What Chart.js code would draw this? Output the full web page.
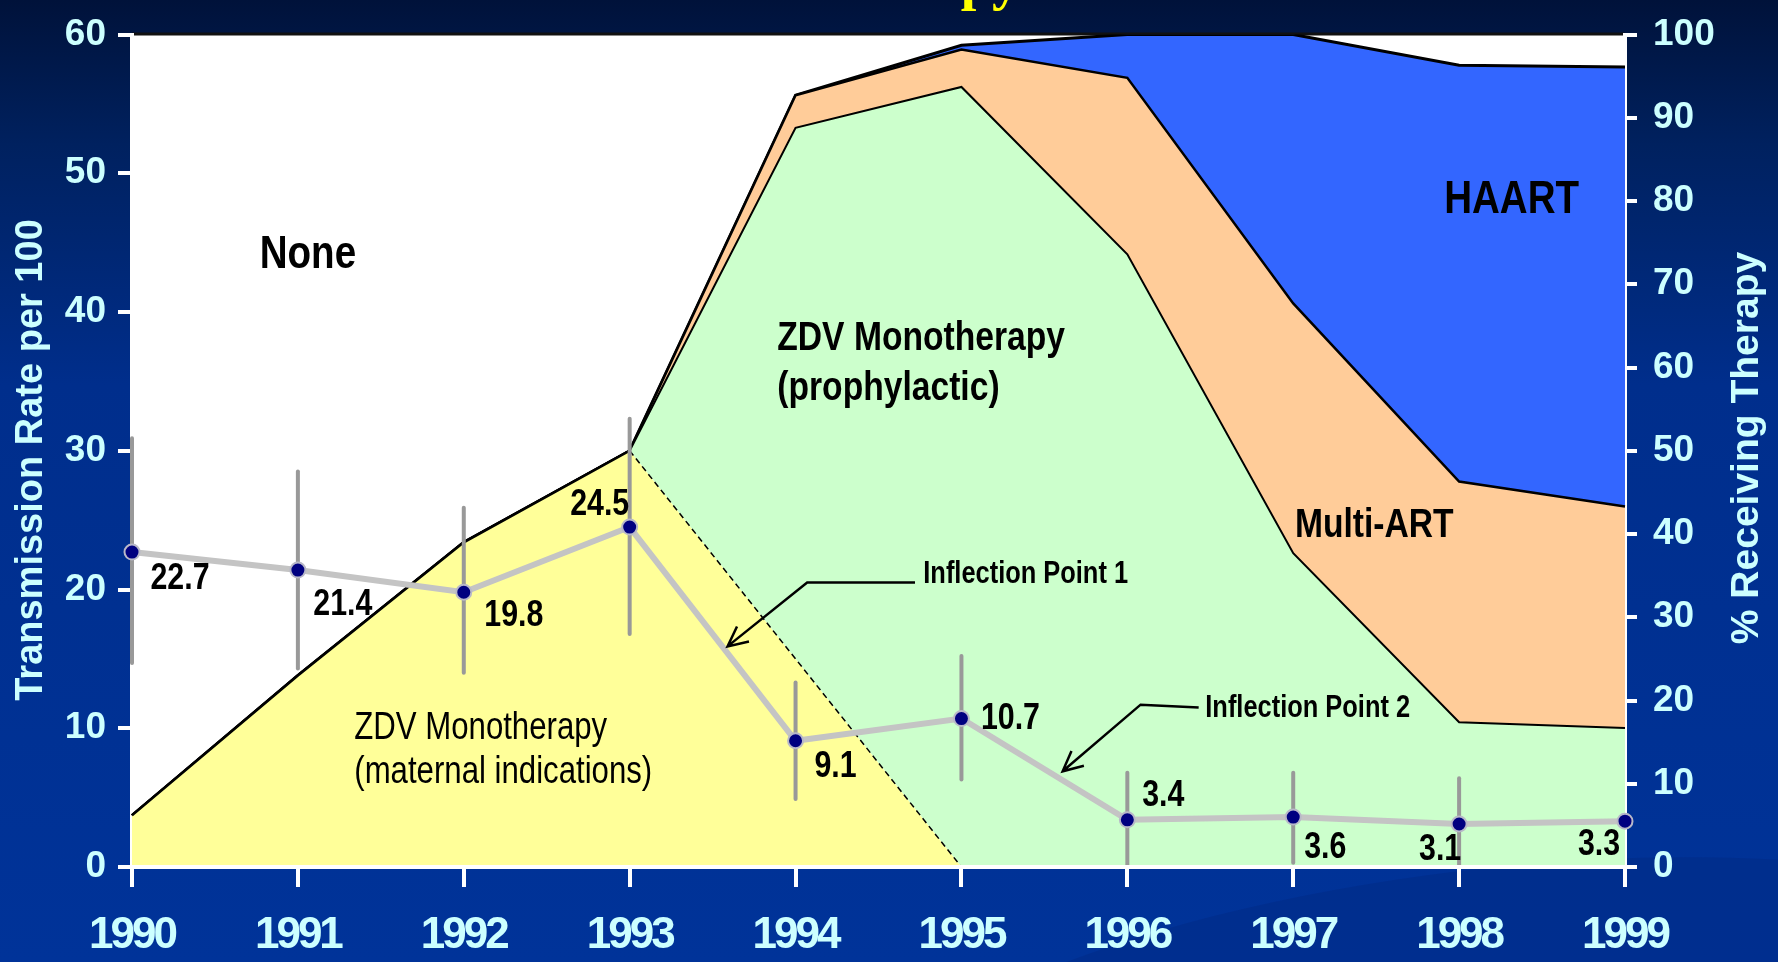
<!doctype html>
<html>
<head>
<title>Perinatal HIV Transmission by Therapy</title>
<script src="https://cdn.jsdelivr.net/npm/chart.js@4.4.1/dist/chart.umd.min.js"></script>
<style>
	html, body { margin: 0; padding: 0; background: #002a80; overflow: hidden; }
	#wrap { width: 1778px; height: 962px; }
</style>
</head>
<body>
<div id="wrap"><canvas id="canvas" width="1778" height="962"></canvas></div>
<script>
	// years on the x axis
	const years = ['1990', '1991', '1992', '1993', '1994', '1995', '1996', '1997', '1998', '1999'];

	// transmission rate per 100 (left axis) with its confidence limits
	const transmissionRate = [22.7, 21.4, 19.8, 24.5, 9.1, 10.7, 3.4, 3.6, 3.1, 3.3];
	const ciLow = [14.7, 14.3, 14.0, 16.8, 4.9, 6.3, 0, 0.3, 0, null];
	const ciHigh = [30.9, 28.5, 25.9, 32.3, 13.3, 15.2, 6.8, 6.8, 6.4, null];

	// % receiving each therapy (right axis), one share per year
	const zdvMaternal = [6.2, 23, 39, 50, 25, 0, 0, 0, 0, 0];
	const zdvProphylactic = [0, 0, 0, 0, 63.8, 93.7, 73.6, 37.7, 17.4, 16.7];
	const multiArt = [0, 0, 0, 0, 3.9, 4.5, 21.2, 30.0, 28.9, 26.6];
	const haart = [0, 0, 0, 0, 0, 0.5, 5.2, 32.3, 50.0, 52.8];

	const leftTicks = [0, 10, 20, 30, 40, 50, 60];
	const rightTicks = [0, 10, 20, 30, 40, 50, 60, 70, 80, 90, 100];

	const FONT = '"Liberation Sans", Arial, sans-serif';
	const CYAN = '#ccffff';
	const SQUEEZE = 0.82; // no narrow face installed, so squeeze the plain one

	// running totals so each band fills onto the one below it
	function cumulative(layers) {
		const out = [];
		let run = years.map(() => 0);
		layers.forEach((layer) => {
			run = run.map((v, i) => +(v + layer[i]).toFixed(2));
			out.push(run);
		});
		return out;
	}
	const [topMaternal, topProphylactic, topMulti, topHaart] =
		cumulative([zdvMaternal, zdvProphylactic, multiArt, haart]);

	// where each rate label sits next to its point (px)
	const labelOffsets = [[48, 27], [45, 35], [50, 24], [-30, -22], [40, 26], [49, 0], [36, -24], [32, 31], [-19, 26], [-26, 24]];

	// text placed in the plot (x in year steps from 1990, y in left axis units)
	const regionNotes = [
		{lines: ['None'], x: 0.77, y: 44.1, weight: 'bold', size: 47, gap: 0},
		{lines: ['ZDV Monotherapy', '(prophylactic)'], x: 3.89, y: 38.1, weight: 'bold', size: 41, gap: 3.6},
		{lines: ['ZDV Monotherapy', '(maternal indications)'], x: 1.34, y: 10.0, weight: 'normal', size: 38, gap: 3.2},
		{lines: ['Multi-ART'], x: 7.01, y: 24.6, weight: 'bold', size: 41, gap: 0},
		{lines: ['HAART'], x: 7.91, y: 48.1, weight: 'bold', size: 47, gap: 0}
	];
	const callouts = [
		{text: 'Inflection Point 1', textAt: [4.77, 21.1], path: [[4.72, 20.5], [4.07, 20.5], [3.59, 15.9]]},
		{text: 'Inflection Point 2', textAt: [6.47, 11.4], path: [[6.43, 11.5], [6.08, 11.7], [5.61, 6.9]]}
	];

	function squeezedText(ctx, text, x, y, align) {
		ctx.save();
		ctx.translate(x, y);
		ctx.scale(SQUEEZE, 1);
		ctx.textAlign = align;
		ctx.fillText(text, 0, 0);
		ctx.restore();
	}

	const backdrop = {
		id: 'backdrop',
		beforeDraw(chart) {
			const {ctx, width, height, chartArea: a} = chart;
			ctx.letterSpacing = '0px';
			ctx.save();
			const g = ctx.createLinearGradient(0, 0, 0, height);
			g.addColorStop(0, '#00123a');
			g.addColorStop(0.15, '#00215f');
			g.addColorStop(0.4, '#002e8c');
			g.addColorStop(1, '#003399');
			ctx.fillStyle = g;
			ctx.fillRect(0, 0, width, height);
			// soft swoosh bottom right
			ctx.fillStyle = 'rgba(0, 30, 110, 0.22)';
			ctx.beginPath();
			ctx.ellipse(1480, 1070, 640, 200, -0.12, 0, Math.PI * 2);
			ctx.fill();
			// white plot area
			ctx.fillStyle = '#ffffff';
			ctx.fillRect(a.left, a.top, a.right - a.left, a.bottom - a.top);
			ctx.strokeStyle = '#111';
			ctx.lineWidth = 3;
			ctx.beginPath();
			ctx.moveTo(a.left, a.top - 0.5);
			ctx.lineTo(a.right, a.top - 0.5);
			ctx.stroke();
			// slide title, mostly above the picture
			ctx.fillStyle = '#ffff00';
			ctx.font = 'bold 56px "Liberation Serif", serif';
			ctx.textAlign = 'right';
			ctx.textBaseline = 'alphabetic';
			ctx.fillText('Therapy', 1020, -1);
			ctx.restore();
		},
		afterDatasetsDraw(chart) {
			// year labels are drawn after this, tighten them a little
			chart.ctx.letterSpacing = '-3px';
		}
	};

	const errorBars = {
		id: 'errorBars',
		beforeDatasetDraw(chart, args) {
			if (args.index !== 0) return;
			const {ctx} = chart;
			const x = chart.scales.x;
			const y = chart.scales.y;
			ctx.save();
			ctx.strokeStyle = '#999999';
			ctx.lineWidth = 4;
			ctx.lineCap = 'round';
			years.forEach((yr, i) => {
				if (ciLow[i] === null) return;
				const px = x.getPixelForValue(i);
				ctx.beginPath();
				ctx.moveTo(px, y.getPixelForValue(ciLow[i]));
				ctx.lineTo(px, y.getPixelForValue(ciHigh[i]));
				ctx.stroke();
			});
			ctx.restore();
		}
	};

	const notes = {
		id: 'notes',
		afterDraw(chart) {
			const {ctx} = chart;
			const x = chart.scales.x;
			const y = chart.scales.y;
			ctx.letterSpacing = '0px';
			ctx.save();
			ctx.fillStyle = '#000';
			ctx.textBaseline = 'middle';

			// rate labels
			ctx.font = 'bold 37px ' + FONT;
			transmissionRate.forEach((v, i) => {
				const [dx, dy] = labelOffsets[i];
				squeezedText(ctx, v.toFixed(1), x.getPixelForValue(i) + dx, y.getPixelForValue(v) + dy, 'center');
			});

			// band names
			regionNotes.forEach((n) => {
				ctx.font = n.weight + ' ' + n.size + 'px ' + FONT;
				n.lines.forEach((line, k) => {
					squeezedText(ctx, line, x.getPixelForValue(n.x), y.getPixelForValue(n.y - k * n.gap), 'left');
				});
			});

			// inflection callouts
			ctx.font = 'bold 31px ' + FONT;
			ctx.strokeStyle = '#000';
			ctx.lineWidth = 2.5;
			callouts.forEach((c) => {
				const pts = c.path.map(([px, py]) => [x.getPixelForValue(px), y.getPixelForValue(py)]);
				ctx.beginPath();
				pts.forEach(([px, py], k) => (k ? ctx.lineTo(px, py) : ctx.moveTo(px, py)));
				const [tx, ty] = pts[pts.length - 1];
				const [sx, sy] = pts[pts.length - 2];
				const ang = Math.atan2(ty - sy, tx - sx);
				const len = 22;
				ctx.moveTo(tx - len * Math.cos(ang - 0.45), ty - len * Math.sin(ang - 0.45));
				ctx.lineTo(tx, ty);
				ctx.lineTo(tx - len * Math.cos(ang + 0.45), ty - len * Math.sin(ang + 0.45));
				ctx.stroke();
				squeezedText(ctx, c.text, x.getPixelForValue(c.textAt[0]), y.getPixelForValue(c.textAt[1]), 'left');
			});

			// axis titles, both reading upwards
			ctx.fillStyle = CYAN;
			ctx.textAlign = 'center';
			ctx.font = 'bold 38px ' + FONT;
			ctx.translate(32, 460);
			ctx.rotate(-Math.PI / 2);
			ctx.fillText('Transmission Rate per 100', 0, 0);
			ctx.setTransform(1, 0, 0, 1, 0, 0);
			ctx.font = 'bold 39px ' + FONT;
			ctx.translate(1747, 448);
			ctx.rotate(-Math.PI / 2);
			ctx.fillText('% Receiving Therapy', 0, 0);
			ctx.restore();
		}
	};

	function areaSet(label, data, fill, color, width) {
		return {
			label: label,
			data: data,
			yAxisID: 'y1',
			fill: fill,
			backgroundColor: color,
			borderColor: width ? '#000' : 'rgba(0,0,0,0)',
			borderWidth: width,
			pointRadius: 0,
			tension: 0,
			order: 1
		};
	}

	const ctx = document.getElementById('canvas').getContext('2d');
	window.myChart = new Chart(ctx, {
		type: 'line',
		data: {
			labels: years,
			datasets: [{
				label: 'Transmission rate',
				data: transmissionRate,
				yAxisID: 'y',
				borderColor: '#c4c4c4',
				borderWidth: 6,
				pointRadius: 7.5,
				pointBackgroundColor: '#000080',
				pointBorderColor: '#b8b8c8',
				pointBorderWidth: 2,
				fill: false,
				tension: 0,
				clip: false,
				order: 0
			},
			areaSet('ZDV maternal', topMaternal, 'origin', '#ffff99', 0),
			areaSet('ZDV prophylactic', topProphylactic, '-1', '#ccffcc', 2),
			areaSet('Multi-ART', topMulti, '-1', '#ffcc99', 2.5),
			areaSet('HAART', topHaart, '-1', '#3366ff', 3),
			{
				// edge of the maternal band: solid, then dashed where it hands over
				label: 'ZDV maternal edge',
				data: topMaternal,
				yAxisID: 'y1',
				fill: false,
				borderColor: '#000',
				borderWidth: 2.5,
				pointRadius: 0,
				tension: 0,
				order: 0.5,
				segment: {
					borderDash: (c) => (c.p0DataIndex >= 3 && c.p0DataIndex < 5 ? [6, 4] : undefined),
					borderWidth: (c) => (c.p0DataIndex >= 3 ? 1.5 : 2.5),
					borderColor: (c) => (c.p0DataIndex >= 5 ? 'rgba(0,0,0,0)' : '#000')
				}
			}]
		},
		options: {
			responsive: false,
			animation: false,
			devicePixelRatio: 1,
			layout: {padding: {top: 21, left: 0, right: 0, bottom: 0}},
			plugins: {
				legend: {display: false},
				tooltip: {enabled: false}
			},
			scales: {
				x: {
					offset: false,
					afterFit(scale) { scale.height = 95; },
					grid: {drawOnChartArea: false, drawTicks: true, tickLength: 20, color: '#fff', lineWidth: 4},
					border: {display: true, color: '#fff', width: 4, z: 1},
					ticks: {z: 2, color: CYAN, padding: 22, maxRotation: 0, font: {family: FONT, size: 44, weight: 'bold', lineHeight: 1.2}}
				},
				y: {
					position: 'left',
					min: 0,
					max: 60,
					afterFit(scale) { scale.width = 132; },
					afterBuildTicks(scale) { scale.ticks = leftTicks.map((v) => ({value: v})); },
					grid: {drawOnChartArea: false, drawTicks: true, tickLength: 14, color: '#fff', lineWidth: 4},
					border: {display: true, color: '#fff', width: 4},
					ticks: {color: CYAN, padding: 12, font: {family: FONT, size: 37, weight: 'bold', lineHeight: 1}}
				},
				y1: {
					position: 'right',
					min: 0,
					max: 100,
					afterFit(scale) { scale.width = 153; },
					afterBuildTicks(scale) { scale.ticks = rightTicks.map((v) => ({value: v})); },
					grid: {drawOnChartArea: false, drawTicks: true, tickLength: 12, color: '#fff', lineWidth: 4},
					border: {display: true, color: '#fff', width: 4},
					ticks: {color: CYAN, padding: 16, font: {family: FONT, size: 37, weight: 'bold', lineHeight: 1}}
				}
			}
		},
		plugins: [backdrop, errorBars, notes]
	});
</script>
</body>
</html>
